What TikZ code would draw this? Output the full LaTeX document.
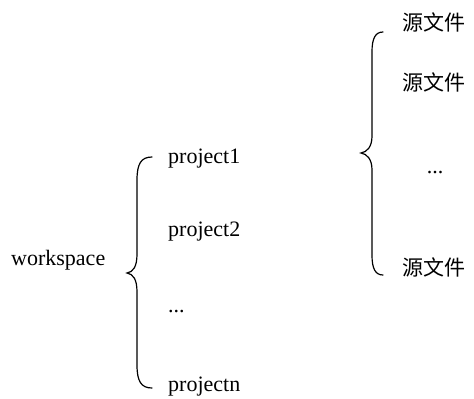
\documentclass[tikz,border=0pt]{standalone}
\usepackage{fontspec}
\setmainfont{Liberation Serif}
\newfontfamily\cjk{Noto Sans CJK SC}
\begin{document}
\begin{tikzpicture}[x=1pt,y=-1pt,
  lbl/.style={inner sep=0pt,anchor=base west,font=\fontsize{22}{26}\selectfont},
  cjklbl/.style={inner sep=0pt,anchor=west,font=\cjk\fontsize{21}{26}\selectfont},
  bracecurve/.style={draw=black,line width=1.2pt,line cap=round}]
\useasboundingbox (0,0) rectangle (474,399);
% left level
\node[lbl] (ws) at (11,265) {workspace};
\node[lbl] (p1) at (168,163) {project1};
\node[lbl] (p2) at (168,236) {project2};
\node[lbl] (pd) at (168,312) {...};
\node[lbl] (pn) at (168,391) {projectn};
% right level
\node[cjklbl] (s1) at (402,22) {源文件};
\node[cjklbl] (s2) at (402,82) {源文件};
\node[lbl,anchor=base] (sd) at (435,173) {...};
\node[cjklbl] (sn) at (402,267) {源文件};
% left brace
\path[bracecurve] (152,157) .. controls (141,157) and (137,164) .. (137,180)
  -- (137,254) .. controls (137,267) and (133,272) .. (127,273)
  .. controls (133,274) and (137,279) .. (137,292)
  -- (137,365) .. controls (137,381) and (141,388) .. (152,388);
% right brace
\path[bracecurve] (383,32) .. controls (375,32) and (372,39) .. (372,52)
  -- (372,136) .. controls (372,147) and (367,152) .. (361,153)
  .. controls (367,154) and (372,159) .. (372,170)
  -- (372,255) .. controls (372,268) and (375,275) .. (383,275);
\end{tikzpicture}
\end{document}
